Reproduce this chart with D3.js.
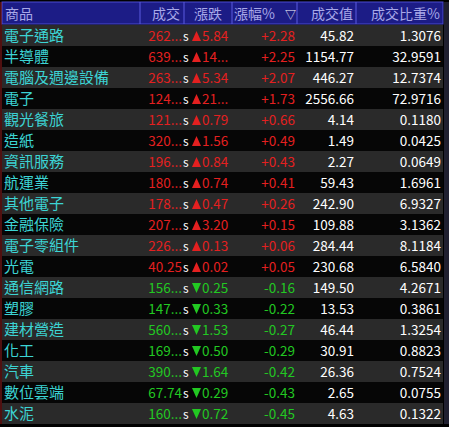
<!DOCTYPE html><html><head><meta charset="utf-8"><script src="https://cdn.jsdelivr.net/npm/d3@7"></script>
<style>body{margin:0;background:#000}</style></head><body><script>
const headers=["商品","成交","漲跌","漲幅%","成交值","成交比重%"];
const names=["電子通路","半導體","電腦及週邊設備","電子","觀光餐旅","造紙","資訊服務","航運業","其他電子","金融保險","電子零組件","光電","通信網路","塑膠","建材營造","化工","汽車","數位雲端","水泥"];
const prices=["262...","639...","263...","124...","121...","320...","196...","180...","178...","207...","226...","40.25","156...","147...","560...","169...","390...","67.74","160..."];
const changes=["5.84","14...","5.34","21...","0.79","1.56","0.84","0.74","0.47","3.20","0.13","0.02","0.25","0.33","1.53","0.50","1.64","0.29","0.72"];
const pcts=[2.28,2.25,2.07,1.73,0.66,0.49,0.43,0.41,0.26,0.15,0.06,0.05,-0.16,-0.22,-0.27,-0.29,-0.42,-0.43,-0.45];
const values=["45.82","1154.77","446.27","2556.66","4.14","1.49","2.27","59.43","242.90","109.88","284.44","230.68","149.50","13.53","46.44","30.91","26.36","2.65","4.63"];
const weights=["1.3076","32.9591","12.7374","72.9716","0.1180","0.0425","0.0649","1.6961","6.9327","3.1362","8.1184","6.5840","4.2671","0.3861","1.3254","0.8823","0.7524","0.0755","0.1322"];
const W=449,H=427;
const svg=d3.select("body").append("svg").attr("width",W).attr("height",H).style("font-family","'Noto Sans CJK TC',sans-serif");
const y=d3.scaleBand().domain(d3.range(names.length)).range([25,424]);
svg.append("rect").attr("width",W).attr("height",H).attr("fill","#000");
svg.append("rect").attr("x",2).attr("y",2).attr("width",441).attr("height",22).attr("fill","#1c1c86").attr("stroke","#4a4ad0");
const divs=[140,184,232,297,356];
divs.forEach(x=>svg.append("line").attr("x1",x).attr("x2",x).attr("y1",2).attr("y2",24).attr("stroke","#5a5ae0"));
const hx=[[5,"start"],[180,"end"],[194,"start"],[234,"start"],[353,"end"],[440,"end"]];
headers.forEach((h,i)=>svg.append("text").attr("x",hx[i][0]).attr("y",19).attr("text-anchor",hx[i][1]).attr("fill","#a8a8e8").attr("font-size",14).text(h));
svg.append("text").attr("x",285).attr("y",19).attr("fill","#fff").attr("font-size",11).text("▽");
svg.append("line").attr("x1",1).attr("x2",1).attr("y1",2).attr("y2",424).attr("stroke","#a02020");
svg.append("rect").attr("x",444).attr("y",2).attr("width",5).attr("height",422).attr("fill","#202030");
const g=svg.selectAll("g.r").data(names).join("g").attr("transform",(d,i)=>`translate(0,${y(i)})`);
g.append("rect").attr("x",2).attr("width",441).attr("height",y.bandwidth()).attr("fill",(d,i)=>i%2?"#060606":"#2a2a2a");
const col=i=>pcts[i]>=0?"#e42020":"#22c822";
const ty=15.5;
g.append("text").attr("x",4).attr("y",ty).attr("fill","#3cd4d4").attr("font-size",15).text(d=>d);
g.append("text").attr("x",182).attr("y",ty).attr("text-anchor","end").attr("fill",(d,i)=>col(i)).attr("font-size",13.5).text((d,i)=>prices[i]);
g.append("text").attr("x",183).attr("y",ty).attr("fill","#fff").attr("font-size",12).text("s");
g.append("path").attr("fill",(d,i)=>col(i))
 .attr("d",(d,i)=>pcts[i]>=0?"M192,16L196.5,6L201,16Z":"M192,6L196.5,16L201,6Z");
g.append("text").attr("x",202).attr("y",ty).attr("fill",(d,i)=>col(i)).attr("font-size",13.5).text((d,i)=>changes[i]);
g.append("text").attr("x",295).attr("y",ty).attr("text-anchor","end").attr("fill",(d,i)=>col(i)).attr("font-size",13.5).text((d,i)=>(pcts[i]>=0?"+":"")+pcts[i].toFixed(2));
g.append("text").attr("x",354).attr("y",ty).attr("text-anchor","end").attr("fill","#fff").attr("font-size",13.5).text((d,i)=>values[i]);
g.append("text").attr("x",441).attr("y",ty).attr("text-anchor","end").attr("fill","#fff").attr("font-size",13.5).text((d,i)=>weights[i]);
</script></body></html>
